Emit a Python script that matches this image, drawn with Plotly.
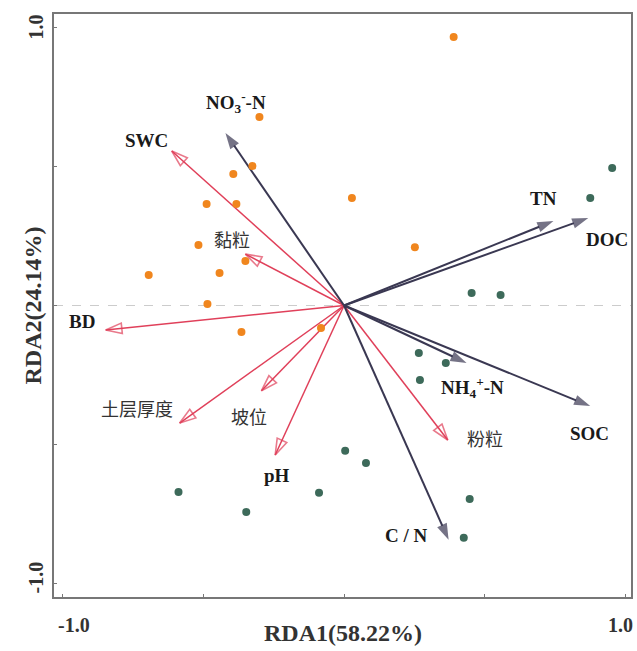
import plotly.graph_objects as go

# ---------------- data ----------------
orange_x = [-0.301, -0.326, -0.394, -0.489, -0.383, -0.518, -0.351, -0.443, -0.695,
            -0.486, -0.365, -0.082, 0.390, 0.028, 0.252]
orange_y = [0.678, 0.502, 0.473, 0.365, 0.365, 0.218, 0.160, 0.117, 0.110,
            0.005, -0.095, -0.081, 0.966, 0.387, 0.210]

teal_x = [0.954, 0.876, 0.454, 0.557, 0.266, 0.362, 0.270, 0.004, 0.078,
          0.447, 0.426, -0.089, -0.589, -0.348]
teal_y = [0.495, 0.387, 0.045, 0.038, -0.171, -0.207, -0.268, -0.523, -0.567,
          -0.696, -0.836, -0.674, -0.671, -0.743]

# environmental factors (open red arrows)
env_names = ["SWC", "黏粒", "BD", "土层厚度", "坡位", "pH", "粉粒"]
env_x = [-0.613, -0.351, -0.848, -0.585, -0.294, -0.245, 0.369]
env_y = [0.556, 0.185, -0.088, -0.423, -0.307, -0.538, -0.484]

# soil nutrient variables (filled dark arrows)
nut_names = ["NO<sub>3</sub><sup>-</sup>-N", "C / N", "SOC", "NH<sub>4</sub><sup>+</sup>-N", "TN", "DOC"]
nut_x = [-0.422, 0.372, 0.876, 0.436, 0.745, 0.869]
nut_y = [0.621, -0.843, -0.362, -0.207, 0.304, 0.315]

x_title = "RDA1(58.22%)"
y_title = "RDA2(24.14%)"
tick_vals = [-1.0, -0.5, 0.0, 0.5, 1.0]
tick_labels = ["-1.0", "1.0"]

# ---------------- style / layout ----------------
RED = "#e0405a"
NAVY = "#3a3852"
ORANGE = "#f0861e"
TEAL = "#3d6a5a"
SERIF = "Liberation Serif"
CJK = "Noto Sans CJK SC"

# label offsets in pixels (dx, dy)
env_off = {"SWC": (-25, 11), "黏粒": (-13, 15), "BD": (-24, 8), "土层厚度": (-43, 15),
           "坡位": (-12, -25), "pH": (2, -20), "粉粒": (37, 2)}
nut_off = [(11, 30), (-42, 4), (-1, -27), (6, -24), (-10, 23), (19, -22)]

fig = go.Figure()

fig.add_shape(type="line", xref="paper", yref="y", x0=0, x1=1, y0=0, y1=0,
              line=dict(color="#cccccc", width=1, dash="dash"), layer="below")

for nx, ny in zip(env_x, env_y):
    fig.add_trace(go.Scatter(
        x=[0, nx], y=[0, ny], mode="lines+markers",
        line=dict(color=RED, width=1.5),
        marker=dict(symbol="arrow-open", size=[0, 17], angleref="previous",
                    color=RED, line=dict(color=RED, width=1.6)),
        hoverinfo="skip", showlegend=False))

for nx, ny in zip(nut_x, nut_y):
    fig.add_trace(go.Scatter(
        x=[0, nx], y=[0, ny], mode="lines+markers",
        line=dict(color=NAVY, width=2),
        marker=dict(symbol="arrow", size=[0, 17], angleref="previous",
                    color=NAVY, line=dict(width=0)),
        hoverinfo="skip", showlegend=False))

fig.add_trace(go.Scatter(x=orange_x, y=orange_y, mode="markers",
                         marker=dict(color=ORANGE, size=8), showlegend=False))
fig.add_trace(go.Scatter(x=teal_x, y=teal_y, mode="markers",
                         marker=dict(color=TEAL, size=8), showlegend=False))

ann = []
for name, nx, ny in zip(env_names, env_x, env_y):
    dx, dy = env_off[name]
    latin = name.isascii()
    ann.append(dict(x=nx, y=ny, xref="x", yref="y", text=f"<b>{name}</b>" if latin else name,
                    showarrow=False, xshift=dx, yshift=dy,
                    font=dict(family=SERIF if latin else CJK, size=19 if latin else 18,
                              color="#1a1a1a" if latin else "#333")))
for name, nx, ny, (dx, dy) in zip(nut_names, nut_x, nut_y, nut_off):
    ann.append(dict(x=nx, y=ny, xref="x", yref="y", text=f"<b>{name}</b>",
                    showarrow=False, xshift=dx, yshift=dy,
                    font=dict(family=SERIF, size=19, color="#1a1a1a")))

# tick labels & axis titles
TK = dict(family=SERIF, size=20, color="#333")
C = dict(xanchor="center", yanchor="middle", showarrow=False)
ann.append(dict(x=-1.0, y=0, xref="x", yref="paper", text=f"<b>{tick_labels[0]}</b>",
                xshift=11, yshift=-28, font=TK, **C))
ann.append(dict(x=1.0, y=0, xref="x", yref="paper", text=f"<b>{tick_labels[1]}</b>",
                xshift=-5, yshift=-28, font=TK, **C))
ann.append(dict(x=0, y=1.0, xref="paper", yref="y", text=f"<b>{tick_labels[1]}</b>",
                xshift=-18, yshift=0, textangle=-90, font=TK, **C))
ann.append(dict(x=0, y=-1.0, xref="paper", yref="y", text=f"<b>{tick_labels[0]}</b>",
                xshift=-18, yshift=6, textangle=-90, font=TK, **C))
ann.append(dict(x=0.5, y=0, xref="paper", yref="paper", text=f"<b>{x_title}</b>",
                yshift=-36, font=dict(family=SERIF, size=24, color="#333"), **C))
ann.append(dict(x=0, y=0.5, xref="paper", yref="paper", text=f"<b>{y_title}</b>",
                xshift=-22, textangle=-90,
                font=dict(family=SERIF, size=24, color="#333"), **C))

fig.update_layout(
    width=637, height=651,
    margin=dict(l=54, r=4, t=14, b=54),
    paper_bgcolor="white", plot_bgcolor="white",
    annotations=ann,
    xaxis=dict(range=[-1.032, 1.021], tickvals=tick_vals, showticklabels=False,
               ticks="inside", ticklen=3, tickcolor="#777", showgrid=False, zeroline=False,
               showline=True, mirror=True, linecolor="#777", linewidth=2),
    yaxis=dict(range=[-1.049, 1.049], tickvals=tick_vals, showticklabels=False,
               ticks="inside", ticklen=3, tickcolor="#777", showgrid=False, zeroline=False,
               showline=True, mirror=True, linecolor="#777", linewidth=2),
)

fig.write_html("out.html")
